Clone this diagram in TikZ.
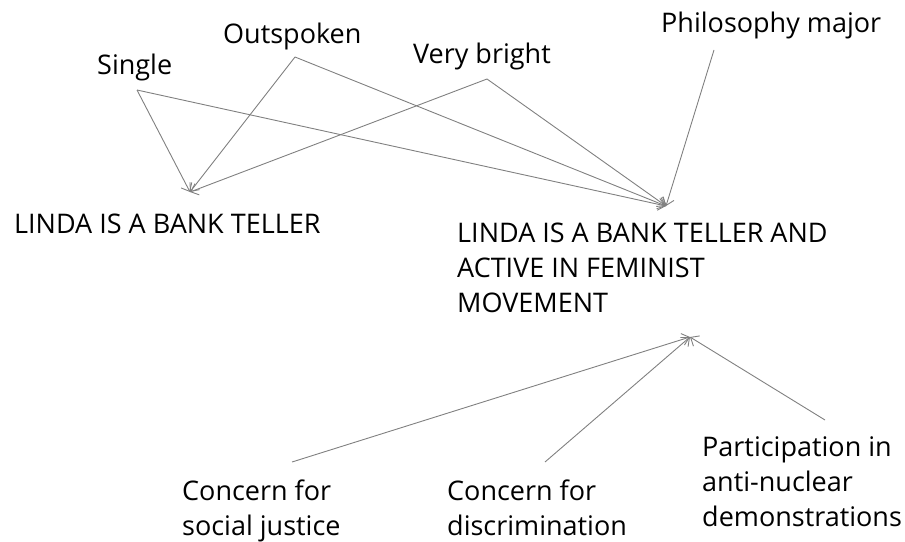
\documentclass[tikz,border=0pt]{standalone}
\usepackage{fontspec}
\setmainfont{Open Sans}
\usetikzlibrary{arrows.meta}
\begin{document}
\begin{tikzpicture}[x=1pt,y=-1pt,
  lbl/.style={anchor=base west,inner sep=0pt,font=\fontsize{27}{35}\selectfont,align=left},
  conn/.style={draw=black!50,line width=0.9pt,-{Straight Barb[length=7pt,width=12pt]}}]
\useasboundingbox (0,0) rectangle (905,541);
\node[lbl] (single) at (97,74) {Single};
\node[lbl] (outsp) at (223,43) {Outspoken};
\node[lbl] (bright) at (413,63) {Very bright};
\node[lbl] (philo) at (661,32) {Philosophy major};
\node[lbl] (teller) at (14,233) {LINDA IS A BANK TELLER};
\node[lbl] (fem) at (457,312) {LINDA IS A BANK TELLER AND\\ACTIVE IN FEMINIST\\MOVEMENT};
\node[lbl] (justice) at (182,535) {Concern for\\social justice};
\node[lbl] (discr) at (447,535) {Concern for\\discrimination};
\node[lbl] (partic) at (702,526) {Participation in\\anti-nuclear\\demonstrations};
\coordinate (sS) at (137,90);
\coordinate (sO) at (295,57);
\coordinate (sB) at (487,79);
\coordinate (sP) at (714,50);
\coordinate (sJ) at (292,462);
\coordinate (sD) at (545,462);
\coordinate (sN) at (825,420);
\coordinate (tL) at (190,192);
\coordinate (tR) at (666,206);
\coordinate (tB) at (690,337);
\draw[conn] (sS) -- (tL);
\draw[conn] (sS) -- (tR);
\draw[conn] (sO) -- (tL);
\draw[conn] (sO) -- (tR);
\draw[conn] (sB) -- (tL);
\draw[conn] (sB) -- (tR);
\draw[conn] (sP) -- (tR);
\draw[conn] (sJ) -- (tB);
\draw[conn] (sD) -- (tB);
\draw[conn] (sN) -- (tB);
\end{tikzpicture}
\end{document}
